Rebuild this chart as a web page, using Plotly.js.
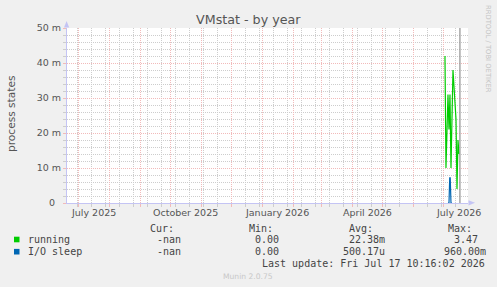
<!DOCTYPE html>
<html><head><meta charset="utf-8">
<script src="https://cdn.plot.ly/plotly-3.0.1.min.js"></script>
<style>html,body{margin:0;padding:0;background:#f0f0f0;}#chart{width:497px;height:287px;}</style>
</head><body><div id="chart"></div>
<script>
// ---- data ----
const runningTimes = ['2026-07-02 12:00','2026-07-03 12:00','2026-07-05 12:00','2026-07-06 12:00','2026-07-07 12:00','2026-07-08 12:00','2026-07-10 12:00','2026-07-12 12:00','2026-07-13 12:00','2026-07-14 12:00','2026-07-15 12:00','2026-07-16 12:00'];
const runningValues = [0.042, 0.010, 0.031, 0.021, 0.031, 0.010, 0.038, 0.030, 0.024, 0.004, 0.018, 0.014];
const ioTimes = ['2026-07-05 12:00','2026-07-06 12:00','2026-07-07 06:00','2026-07-07 18:00','2026-07-08 12:00','2026-07-09 12:00'];
const ioValues = [0, 0, 0.0072, 0.0072, 0, 0];
const yTickVals = [0, 0.01, 0.02, 0.03, 0.04, 0.05];
const yTickText = ['0\u00a0\u00a0', '10 m', '20 m', '30 m', '40 m', '50 m'];
const xLabelDates = ['2025-07-16', '2025-10-16', '2026-01-16', '2026-04-16', '2026-07-16'];
const xLabelText = ['July 2025', 'October 2025', 'January 2026', 'April 2026', 'July 2026'];
const seriesNames = ['running', 'I/O sleep'];
const seriesColors = ['#00cc00', '#0066b3'];
const curVals = ['-nan', '-nan'];
const minVals = ['0.00', '0.00'];
const avgVals = ['22.38m', '500.17u'];
const maxVals = ['3.47', '960.00m'];
const lastUpdate = '2026-07-17 10:16:02';
const lastUpdateText = 'Last update: Fri Jul 17 10:16:02 2026';
const xRange = ['2025-06-20 00:00', '2026-07-25 12:00'];

// ---- geometry helpers (pixels -> paper) ----
const L = 67, R = 468, T = 28, B = 203;
const px = x => (x - L) / (R - L);
const py = y => (B - y) / (B - T);

const RED = '#f2baba', GRAY = '#cdcdcd', AXIS = '#c4c4f4';
const SANS = 'DejaVu Sans', MONO = 'DejaVu Sans Mono';

const traces = [
  {x: runningTimes, y: runningValues, type: 'scatter', mode: 'lines', name: seriesNames[0],
   line: {color: seriesColors[0], width: 1.2}, hoverinfo: 'skip'},
  {x: ioTimes, y: ioValues, type: 'scatter', mode: 'lines', name: seriesNames[1],
   line: {color: seriesColors[1], width: 1.2}, hoverinfo: 'skip'}
];

const ann = [];
function txt(text, x, y, opts) {
  ann.push(Object.assign({text: text, xref: 'paper', yref: 'paper', x: px(x), y: py(y),
    xanchor: 'left', yanchor: 'middle', showarrow: false, borderpad: 0,
    font: {family: MONO, size: 10, color: '#444'}}, opts || {}));
}
// x tick labels (placed on the date axis)
for (let i = 0; i < xLabelDates.length; i++) {
  ann.push({text: xLabelText[i], xref: 'x', yref: 'paper', x: xLabelDates[i], y: py(212.5),
    xanchor: 'center', yanchor: 'middle', showarrow: false, borderpad: 0,
    font: {family: SANS, size: 9.5, color: '#555'}});
}
// title & axis title
txt('VMstat - by year', 248.5, 19, {xanchor: 'center', font: {family: SANS, size: 12.7, color: '#555'}});
txt('process states', 11, 114, {xanchor: 'center', textangle: -90, font: {family: SANS, size: 10.6, color: '#555'}});
txt('RRDTOOL / TOBI OETIKER', 488, 49, {xanchor: 'center', textangle: 90, font: {family: SANS, size: 6.8, color: '#c4c4c4'}});
// legend header
txt('Cur:', 149, 228); txt('Min:', 248, 228); txt('Avg:', 348, 228); txt('Max:', 447, 228);
const rowY = [239.5, 251.7];
const curX = [156, 156], minX = [254, 254], avgX = [348, 342], maxX = [453, 443];
const shapes = [];
for (let i = 0; i < seriesNames.length; i++) {
  txt(seriesNames[i], 27, rowY[i]);
  txt(curVals[i], curX[i], rowY[i]);
  txt(minVals[i], minX[i], rowY[i]);
  txt(avgVals[i], avgX[i], rowY[i]);
  txt(maxVals[i], maxX[i], rowY[i]);
  shapes.push({type: 'rect', xref: 'paper', yref: 'paper', x0: px(14), x1: px(19.5),
    y0: py(rowY[i] + 2.8), y1: py(rowY[i] - 2.8), fillcolor: seriesColors[i], line: {width: 0}});
}
txt(lastUpdateText, 261, 263.8);
txt('Munin 2.0.75', 248, 276, {xanchor: 'center', font: {family: SANS, size: 7.6, color: '#c8c8c8'}});

// axis arrows and now-rule
shapes.push({type: 'path', xref: 'paper', yref: 'paper',
  path: `M ${px(64)} ${py(27.5)} L ${px(66.6)} ${py(21)} L ${px(69.2)} ${py(27.5)} Z`,
  fillcolor: AXIS, line: {width: 0}});
shapes.push({type: 'path', xref: 'paper', yref: 'paper',
  path: `M ${px(468.5)} ${py(200.2)} L ${px(475)} ${py(202.8)} L ${px(468.5)} ${py(205.4)} Z`,
  fillcolor: AXIS, line: {width: 0}});
shapes.push({type: 'line', xref: 'x', yref: 'paper', x0: lastUpdate, x1: lastUpdate, y0: 0, y1: 1,
  line: {color: '#999999', width: 1.3}});

const layout = {
  width: 497, height: 287,
  margin: {l: L, r: 497 - R, t: T, b: 287 - B, pad: 0},
  paper_bgcolor: '#f0f0f0', plot_bgcolor: '#ffffff',
  showlegend: false,
  xaxis: {
    type: 'date', range: xRange, dtick: 'M1', tick0: '2025-07-01',
    showticklabels: false, showgrid: true, gridcolor: RED, griddash: '1px,1px', gridwidth: 1,
    ticks: 'outside', ticklen: 3, tickcolor: RED, tickwidth: 1,
    minor: {dtick: 14 * 86400000, tick0: '2025-07-14', showgrid: true, gridcolor: GRAY,
            griddash: '1px,1px', ticks: 'outside', ticklen: 3, tickcolor: GRAY},
    showline: true, linecolor: AXIS, linewidth: 1, zeroline: false, fixedrange: true
  },
  yaxis: {
    range: [0, 0.05], tickmode: 'array', tickvals: yTickVals, ticktext: yTickText,
    showgrid: true, gridcolor: RED, griddash: '1px,1px',
    ticks: 'outside', ticklen: 3, tickcolor: RED,
    minor: {dtick: 0.002, tick0: 0, showgrid: true, gridcolor: GRAY, griddash: '1px,1px',
            ticks: 'outside', ticklen: 3, tickcolor: GRAY},
    showline: true, linecolor: AXIS, linewidth: 1, zeroline: false,
    tickfont: {family: SANS, size: 9.5, color: '#555'}, fixedrange: true
  },
  annotations: ann,
  shapes: shapes
};

Plotly.newPlot('chart', traces, layout, {staticPlot: true, displayModeBar: false});
</script>
</body></html>
